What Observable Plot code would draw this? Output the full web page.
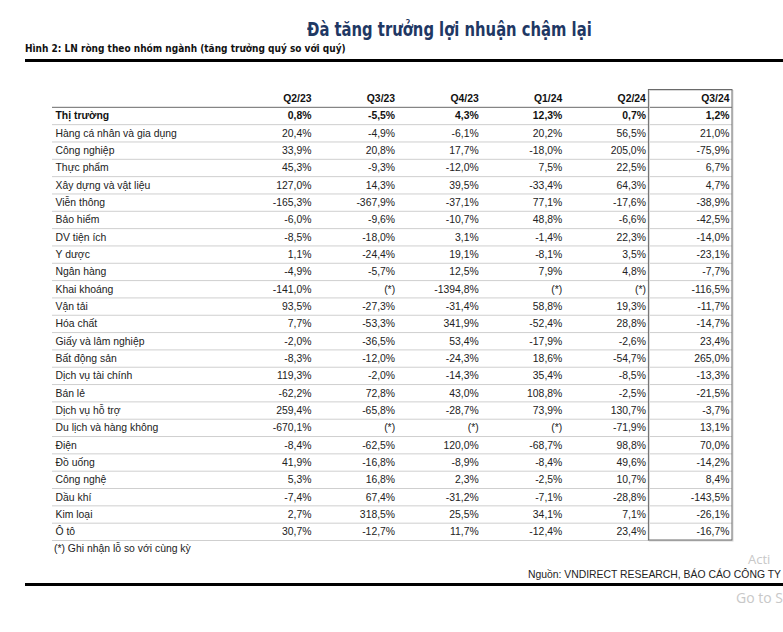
<!DOCTYPE html>
<html><head><meta charset="utf-8">
<script src="https://cdn.jsdelivr.net/npm/d3@7"></script>
<script src="https://cdn.jsdelivr.net/npm/@observablehq/plot@0.6"></script>
<style>
body{margin:0;background:#fff;width:783px;height:632px;overflow:hidden;position:relative;font-family:"Liberation Sans",Arial,sans-serif}
#chart{position:absolute;left:0;top:0}
.abs{position:absolute;white-space:nowrap;line-height:1}
#title{left:307px;top:18px;font:bold 19px "DejaVu Sans Condensed","Liberation Sans",sans-serif;color:#1f3864;transform-origin:0 0;transform:scaleX(0.865)}
#subtitle{left:25px;top:42px;font:bold 11px "DejaVu Sans Condensed","Liberation Sans",sans-serif;color:#111;transform-origin:0 0;transform:scaleX(0.91)}
.thick{position:absolute;left:25px;right:0;height:3px;background:#000}
#note{left:54px;top:544px;font-size:10.4px;color:#222}
#source{right:2px;top:570px;font-size:10.4px;color:#222}
.wm{position:absolute;white-space:nowrap;line-height:1;font:14px "Open Sans","Noto Sans",sans-serif;color:#c8c8c8}
</style>
</head><body>
<div id="chart"></div>
<div id="title" class="abs">Đà tăng trưởng lợi nhuận chậm lại</div>
<div id="subtitle" class="abs">Hình 2: LN ròng theo nhóm ngành (tăng trưởng quý so với quý)</div>
<div class="thick" style="top:59px"></div>
<div id="note" class="abs">(*) Ghi nhận lỗ so với cùng kỳ</div>
<div class="wm" style="left:748px;top:550px;font-size:13px">Acti</div>
<div id="source" class="abs">Nguồn: VNDIRECT RESEARCH, BÁO CÁO CÔNG TY</div>
<div class="thick" style="top:583px"></div>
<div class="wm" style="left:736px;top:588px">Go to S</div>
<script>
const quarters = ["Q2/23", "Q3/23", "Q4/23", "Q1/24", "Q2/24", "Q3/24"];
const sectors = ["Thị trường", "Hàng cá nhân và gia dụng", "Công nghiệp", "Thực phẩm", "Xây dựng và vật liệu",
  "Viễn thông", "Bảo hiểm", "DV tiện ích", "Y dược", "Ngân hàng", "Khai khoáng", "Vận tải", "Hóa chất",
  "Giấy và lâm nghiệp", "Bất động sản", "Dịch vụ tài chính", "Bán lẻ", "Dịch vụ hỗ trợ", "Du lịch và hàng không",
  "Điện", "Đồ uống", "Công nghệ", "Dầu khí", "Kim loại", "Ô tô"];
// null = (*) loss vs same period
const q2_23 = [0.8, 20.4, 33.9, 45.3, 127.0, -165.3, -6.0, -8.5, 1.1, -4.9, -141.0, 93.5, 7.7, -2.0, -8.3, 119.3, -62.2, 259.4, -670.1, -8.4, 41.9, 5.3, -7.4, 2.7, 30.7];
const q3_23 = [-5.5, -4.9, 20.8, -9.3, 14.3, -367.9, -9.6, -18.0, -24.4, -5.7, null, -27.3, -53.3, -36.5, -12.0, -2.0, 72.8, -65.8, null, -62.5, -16.8, 16.8, 67.4, 318.5, -12.7];
const q4_23 = [4.3, -6.1, 17.7, -12.0, 39.5, -37.1, -10.7, 3.1, 19.1, 12.5, -1394.8, -31.4, 341.9, 53.4, -24.3, -14.3, 43.0, -28.7, null, 120.0, -8.9, 2.3, -31.2, 25.5, 11.7];
const q1_24 = [12.3, 20.2, -18.0, 7.5, -33.4, 77.1, 48.8, -1.4, -8.1, 7.9, null, 58.8, -52.4, -17.9, 18.6, 35.4, 108.8, 73.9, null, -68.7, -8.4, -2.5, -7.1, 34.1, -12.4];
const q2_24 = [0.7, 56.5, 205.0, 22.5, 64.3, -17.6, -6.6, 22.3, 3.5, 4.8, null, 19.3, 28.8, -2.6, -54.7, -8.5, -2.5, 130.7, -71.9, 98.8, 49.6, 10.7, -28.8, 7.1, 23.4];
const q3_24 = [1.2, 21.0, -75.9, 6.7, 4.7, -38.9, -42.5, -14.0, -23.1, -7.7, -116.5, -11.7, -14.7, 23.4, 265.0, -13.3, -21.5, -3.7, 13.1, 70.0, -14.2, 8.4, -143.5, -26.1, -16.7];
const series = [q2_23, q3_23, q4_23, q1_24, q2_24, q3_24];

const fmt = v => v == null ? "(*)" : v.toFixed(1).replace(".", ",") + "%";
const cells = sectors.flatMap((s, i) => quarters.map((q, j) => ({row: i + 1, col: j, text: fmt(series[j][i]), bold: i === 0})));
const headers = quarters.map((q, j) => ({row: 0, col: j, text: q}));
const labels = sectors.map((s, i) => ({row: i + 1, text: s, bold: i === 0}));
const seps = sectors.map((s, i) => i + 1.5);
const n = sectors.length;
const font = '"Liberation Sans", Arial, sans-serif';

const chart = Plot.plot({
  width: 783, height: 632,
  marginLeft: 52, marginRight: 51, marginTop: 89.5, marginBottom: 92,
  x: {type: "linear", domain: [0, quarters.length - 1], range: [311, 729], axis: null},
  y: {type: "linear", domain: [-0.5, n + 0.5], range: [89.5, 540], axis: null},
  style: {fontFamily: font, fontSize: "10.4px", color: "#222", background: "transparent", overflow: "visible"},
  marks: [
    Plot.ruleY(seps, {y: d => d, stroke: "#cfcfcf", strokeWidth: 1}),
    Plot.ruleY([0.5], {y: d => d, stroke: "#6a6a6a", strokeWidth: 1}),
    Plot.rect([quarters.length - 1], {x1: d => d - 1, x2: d => d, y1: -0.5, y2: n + 0.5, dx: 4, dy: 1, stroke: "#d8d8d8", fill: "none"}),
    Plot.rect([quarters.length - 1], {x1: d => d - 1, x2: d => d, y1: -0.5, y2: n + 0.5, dx: 3, stroke: "#6a6a6a", fill: "none"}),
    Plot.text(headers, {x: "col", y: "row", text: "text", textAnchor: "end", fontWeight: "bold", fill: "#111"}),
    Plot.text(labels.filter(d => d.bold), {y: "row", text: "text", frameAnchor: "left", textAnchor: "start", dx: 3, fontWeight: "bold", fill: "#111"}),
    Plot.text(labels.filter(d => !d.bold), {y: "row", text: "text", frameAnchor: "left", textAnchor: "start", dx: 3, fill: "#222"}),
    Plot.text(cells.filter(d => d.bold), {x: "col", y: "row", text: "text", textAnchor: "end", fontWeight: "bold", fill: "#111"}),
    Plot.text(cells.filter(d => !d.bold), {x: "col", y: "row", text: "text", textAnchor: "end", fill: "#222"})
  ]
});
document.getElementById("chart").append(chart);
</script>
</body></html>
